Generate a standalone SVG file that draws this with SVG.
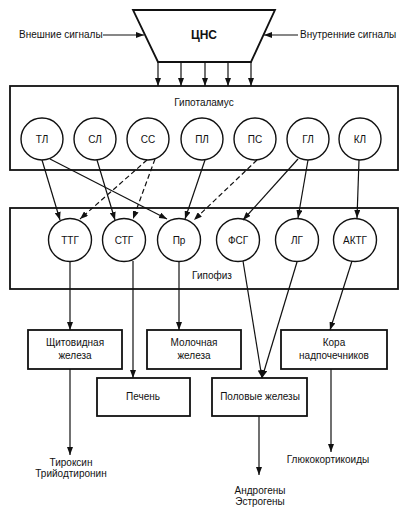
<svg xmlns="http://www.w3.org/2000/svg" width="412" height="520" viewBox="0 0 412 520">
<defs>
<marker id="ah" viewBox="0 0 8 6" refX="8" refY="3" markerWidth="8" markerHeight="6" markerUnits="userSpaceOnUse" orient="auto">
<path d="M0,0 L8,3 L0,6 Z" fill="#111"/>
</marker>
</defs>
<style>
text{font-family:"Liberation Sans",Arial,sans-serif;font-size:10px;fill:#111;text-anchor:middle}
.lbl{text-anchor:start}
.cir{fill:#fff;stroke:#111;stroke-width:1.4}
.box{fill:#fff;stroke:#111;stroke-width:1.8}
.ln{fill:none;stroke:#111;stroke-width:1.2;marker-end:url(#ah)}
.dash{stroke-dasharray:5,3}
</style>
<rect width="412" height="520" fill="#fff"/>

<g id="cns">
<polygon points="133,10 275,10 251,62 158,62" class="box"/>
<text x="204" y="39" style="font-size:12px;font-weight:bold">ЦНС</text>
</g>
<g id="ext">
<text x="19" y="38" class="lbl">Внешние сигналы</text>
</g>
<g id="int">
<text x="300" y="38" class="lbl">Внутренние сигналы</text>
</g>

<g id="hypothalamus">
<rect x="10" y="86" width="388" height="84" class="box"/>
<text x="204" y="106">Гипоталамус</text>
</g>
<g id="tl"><circle cx="42" cy="139" r="21" class="cir"/><text x="42" y="143">ТЛ</text></g>
<g id="sl"><circle cx="95" cy="139" r="21" class="cir"/><text x="95" y="143">СЛ</text></g>
<g id="ss"><circle cx="148" cy="139" r="21" class="cir"/><text x="148" y="143">СС</text></g>
<g id="pl"><circle cx="202" cy="139" r="21" class="cir"/><text x="202" y="143">ПЛ</text></g>
<g id="ps"><circle cx="255" cy="139" r="21" class="cir"/><text x="255" y="143">ПС</text></g>
<g id="gl"><circle cx="308" cy="139" r="21" class="cir"/><text x="308" y="143">ГЛ</text></g>
<g id="kl"><circle cx="360" cy="139" r="21" class="cir"/><text x="360" y="143">КЛ</text></g>

<g id="pituitary">
<rect x="10" y="208" width="388" height="81" class="box"/>
<text x="212" y="279">Гипофиз</text>
</g>
<g id="ttg"><circle cx="70" cy="240" r="21.5" class="cir"/><text x="70" y="244">ТТГ</text></g>
<g id="stg"><circle cx="124" cy="240" r="21.5" class="cir"/><text x="124" y="244">СТГ</text></g>
<g id="pr"><circle cx="179" cy="240" r="21.5" class="cir"/><text x="179" y="244">Пр</text></g>
<g id="fsg"><circle cx="238" cy="240" r="21.5" class="cir"/><text x="238" y="244">ФСГ</text></g>
<g id="lg"><circle cx="297" cy="240" r="21.5" class="cir"/><text x="297" y="244">ЛГ</text></g>
<g id="aktg"><circle cx="355" cy="240" r="21.5" class="cir"/><text x="355" y="244">АКТГ</text></g>

<g id="thyroid"><rect x="28" y="330" width="94" height="39" class="box"/><text x="75" y="346">Щитовидная</text><text x="75" y="359">железа</text></g>
<g id="mammary"><rect x="147" y="330" width="94" height="39" class="box"/><text x="194" y="346">Молочная</text><text x="194" y="359">железа</text></g>
<g id="adrenal"><rect x="281" y="330" width="106" height="39" class="box"/><text x="334" y="346">Кора</text><text x="334" y="359">надпочечников</text></g>
<g id="liver"><rect x="97" y="378" width="93" height="38" class="box"/><text x="143" y="400">Печень</text></g>
<g id="gonads"><rect x="212" y="378" width="95" height="38" class="box"/><text x="260" y="400">Половые железы</text></g>

<g id="thyroxine"><text x="71" y="466">Тироксин</text><text x="71" y="477">Трийодтиронин</text></g>
<g id="androgens"><text x="260" y="494">Андрогены</text><text x="260" y="505">Эстрогены</text></g>
<g id="gluco"><text x="328" y="463">Глюкокортикоиды</text></g>

<g id="connectors">
<line x1="103" y1="35" x2="144" y2="35" class="ln"/>
<line x1="298" y1="35" x2="264" y2="35" class="ln"/>
<line x1="158" y1="62" x2="158" y2="86" class="ln"/>
<line x1="181" y1="62" x2="181" y2="86" class="ln"/>
<line x1="205" y1="62" x2="205" y2="86" class="ln"/>
<line x1="228" y1="62" x2="228" y2="86" class="ln"/>
<line x1="251" y1="62" x2="251" y2="86" class="ln"/>

<line x1="42" y1="160" x2="60" y2="220" class="ln"/>
<line x1="50" y1="159" x2="167" y2="219" class="ln"/>
<line x1="97" y1="160" x2="115" y2="220" class="ln"/>
<line x1="147" y1="160" x2="80" y2="219" class="ln dash"/>
<line x1="155" y1="159" x2="133" y2="219" class="ln dash"/>
<line x1="205" y1="160" x2="185" y2="219" class="ln"/>
<line x1="257" y1="160" x2="194" y2="220" class="ln dash"/>
<line x1="298" y1="159" x2="243" y2="220" class="ln"/>
<line x1="308" y1="160" x2="298" y2="218" class="ln"/>
<line x1="359" y1="160" x2="357" y2="218" class="ln"/>

<line x1="70" y1="262" x2="70" y2="330" class="ln"/>
<line x1="133" y1="261" x2="133" y2="378" class="ln"/>
<line x1="179" y1="262" x2="179" y2="330" class="ln"/>
<line x1="243" y1="261" x2="262" y2="378" class="ln"/>
<line x1="297" y1="262" x2="262" y2="378" class="ln"/>
<line x1="352" y1="261" x2="330" y2="330" class="ln"/>

<line x1="70" y1="369" x2="70" y2="455" class="ln"/>
<line x1="259" y1="416" x2="259" y2="475" class="ln"/>
<line x1="331" y1="369" x2="331" y2="452" class="ln"/>
</g>
</svg>
